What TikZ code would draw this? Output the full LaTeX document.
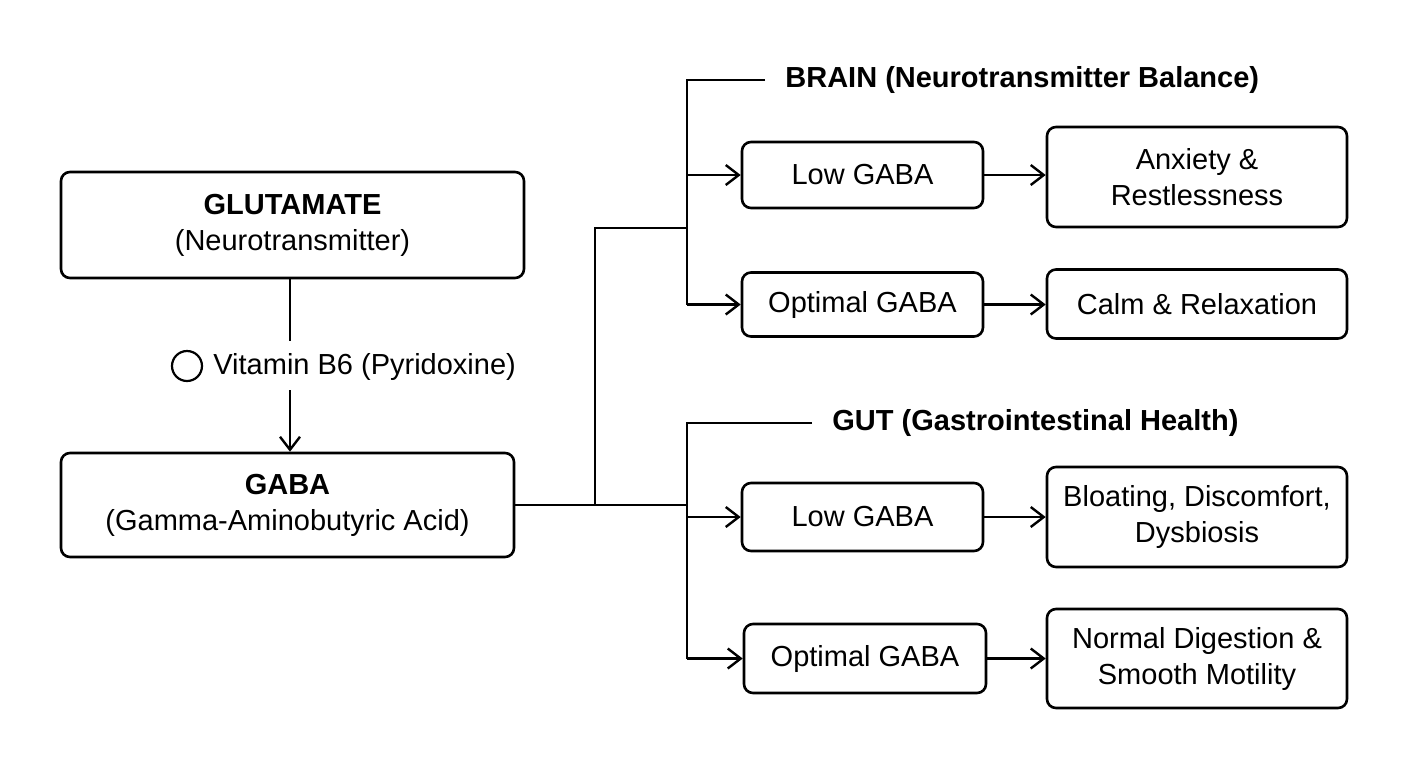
\documentclass[tikz,border=0pt]{standalone}
\usepackage{fontspec}
\setmainfont{Liberation Sans}
\usetikzlibrary{arrows.meta}
\tikzset{
  base/.style={font=\fontsize{14.5pt}{18pt}\selectfont},
  box/.style={base, draw, line width=1.3pt, rounded corners=4.5pt, align=center, inner sep=0pt},
  conn/.style={line width=1.3pt},
  arr/.style={conn, -{Straight Barb[length=6.5pt,width=10pt,line width=1.2pt]}},
  head/.style={font=\fontsize{14.5pt}{18pt}\selectfont\bfseries, anchor=west, inner sep=0pt},
}
\begin{document}
\begin{tikzpicture}[x=0.5pt,y=-0.5pt]
\useasboundingbox (0,0) rectangle (1408,768);
% left column
\node[box, minimum width=231.5pt, minimum height=53pt] (glu) at (292.5,225)
  {\textbf{GLUTAMATE}\\(Neurotransmitter)};
\node[box, minimum width=226.5pt, minimum height=52pt] (gaba) at (287.5,505)
  {\textbf{GABA}\\(Gamma-Aminobutyric Acid)};
\node[base, anchor=west, inner sep=0pt] (vit) at (213,367) {Vitamin B6 (Pyridoxine)};
\node[draw, circle, line width=1.1pt, minimum size=15pt, inner sep=0pt] (vcirc) at (187,366) {};
\coordinate (vtop) at (290,341);
\coordinate (vbot) at (290,390);
\draw[conn] (glu.south -| vtop) -- (vtop);
\draw[arr] (vbot) -- (gaba.north -| vbot);
% brain
\node[head] (brainlbl) at (785,80) {BRAIN (Neurotransmitter Balance)};
\node[box, minimum width=120.5pt, minimum height=33pt] (lowB) at (862.5,175) {Low GABA};
\node[box, minimum width=120.5pt, minimum height=32pt] (optB) at (862.5,304.5) {Optimal GABA};
\node[box, minimum width=150pt, minimum height=50pt] (anx) at (1197,177) {Anxiety \&\\Restlessness};
\node[box, minimum width=150pt, minimum height=34.5pt] (calm) at (1197,304) {Calm \& Relaxation};
% gut
\node[head] (gutlbl) at (832,423) {GUT (Gastrointestinal Health)};
\node[box, minimum width=120.5pt, minimum height=34pt] (lowG) at (862.5,517) {Low GABA};
\node[box, minimum width=121pt, minimum height=34.5pt] (optG) at (865,658.5) {Optimal GABA};
\node[box, minimum width=150pt, minimum height=50pt] (bloat) at (1197,517) {Bloating, Discomfort,\\Dysbiosis};
\node[box, minimum width=150pt, minimum height=49.5pt] (norm) at (1197,658.5) {Normal Digestion \&\\Smooth Motility};
% trunk
\coordinate (junc) at (687,505);
\coordinate (split) at (595,505);
\coordinate (bjunc) at (687,228);
\draw[conn] (gaba.east) -- (junc);
\draw[conn] (split) -- (595,228) -- (bjunc);
% brain bracket
\draw[conn] ([xshift=-10pt]brainlbl.west) -- (687,80) -- (687,304.5);
\draw[arr] (687,175) -- (lowB.west);
\draw[arr] (687,304.5) -- (optB.west);
\draw[arr] (lowB.east) -- (lowB.east -| anx.west);
\draw[arr] (optB.east) -- (optB.east -| calm.west);
% gut bracket
\draw[conn] ([xshift=-10pt]gutlbl.west) -- (687,423) -- (687,658.5);
\draw[arr] (687,517) -- (lowG.west);
\draw[arr] (687,658.5) -- (optG.west);
\draw[arr] (lowG.east) -- (bloat.west);
\draw[arr] (optG.east) -- (norm.west);
\end{tikzpicture}
\end{document}
